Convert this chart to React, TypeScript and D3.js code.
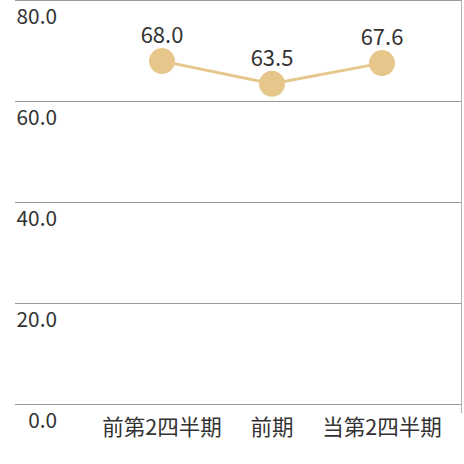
import React from "react";
import * as d3 from "d3";

const categories = ["前第2四半期", "前期", "当第2四半期"];
const values = [68.0, 63.5, 67.6];
const yTicks = [0, 20, 40, 60, 80];

const W = 464;
const H = 464;
const FONT = "'Noto Sans CJK JP', 'Noto Sans', sans-serif";

export default function App() {
  const x = d3.scalePoint<string>().domain(categories).range([162, 382]);
  const y = d3.scaleLinear().domain([0, 80]).range([404.5, 0.5]);
  const line = d3
    .line<number>()
    .x((_, i) => x(categories[i]) as number)
    .y((d) => y(d));

  return (
    <svg
      width={W}
      height={H}
      style={{ position: "absolute", left: 0, top: 0, background: "#fff" }}
      fontFamily={FONT}
    >
      {yTicks.map((t) => (
        <g key={t}>
          <line x1={15} x2={461} y1={y(t)} y2={y(t)} stroke="#9a9a9a" strokeWidth={1} />
          <text x={57} y={y(t) + 23} textAnchor="end" fontSize={20.8} fill="#333">
            {t.toFixed(1)}
          </text>
        </g>
      ))}
      <line x1={461.5} x2={461.5} y1={0} y2={413} stroke="#b0b0b0" strokeWidth={1} />
      <path d={line(values) || ""} fill="none" stroke="#e6c78b" strokeWidth={3} />
      {values.map((v, i) => (
        <g key={i}>
          <circle cx={x(categories[i])} cy={y(v)} r={13} fill="#e6c68b" />
          <text
            x={x(categories[i])}
            y={y(v) - 18}
            textAnchor="middle"
            fontSize={22}
            fill="#333"
          >
            {v.toFixed(1)}
          </text>
        </g>
      ))}
      {categories.map((c) => (
        <text key={c} x={x(c)} y={435} textAnchor="middle" fontSize={21.5} fill="#333">
          {c}
        </text>
      ))}
    </svg>
  );
}
